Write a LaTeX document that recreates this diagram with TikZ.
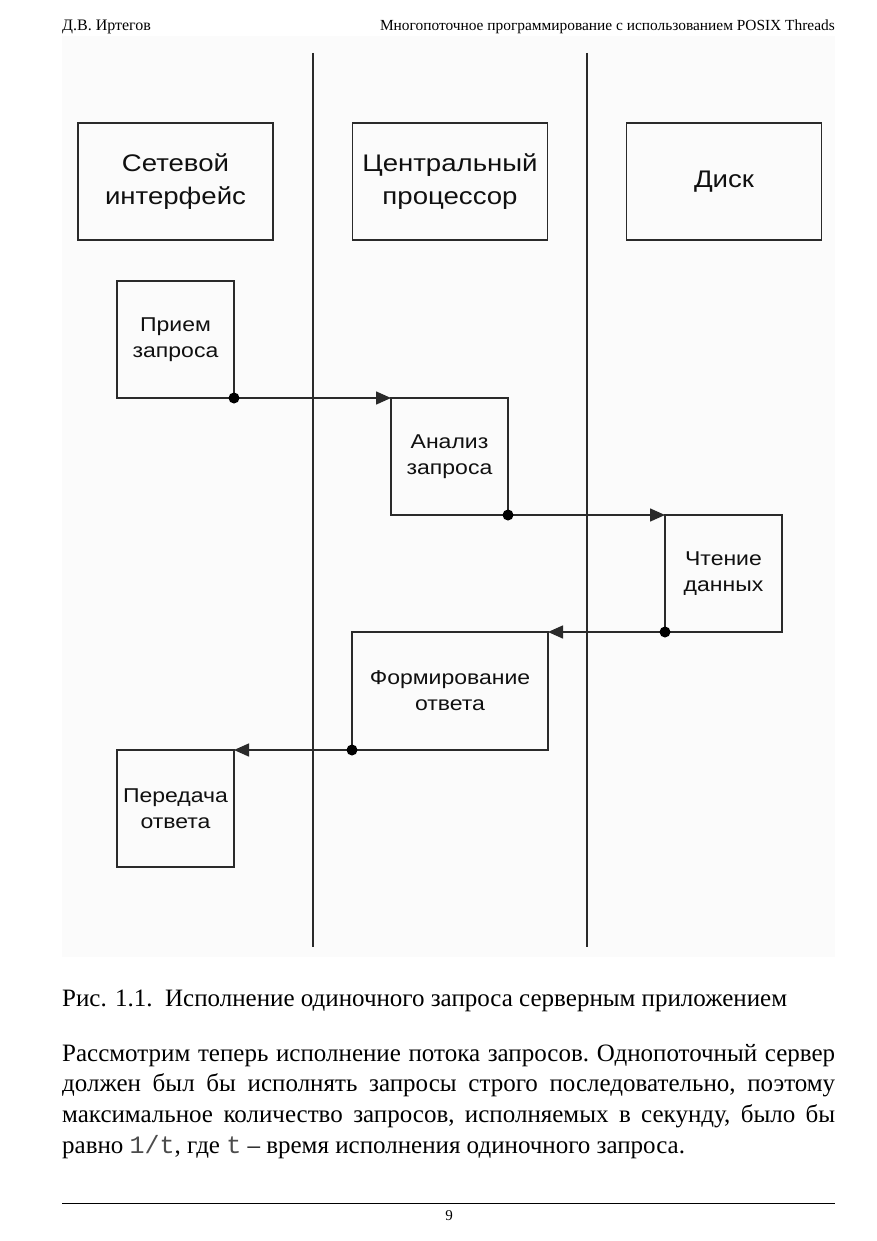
\documentclass[tikz,border=0pt]{standalone}
\usepackage{fontspec}
\setmainfont{Liberation Serif}
\setmonofont{Liberation Mono}
\newfontfamily\diagfont[FakeStretch=1.15]{Liberation Sans}
\usetikzlibrary{arrows.meta}
\definecolor{linec}{HTML}{2A2A2A}
\definecolor{diagtext}{HTML}{101010}
\definecolor{diagbg}{HTML}{FBFBFB}
\begin{document}
\begin{tikzpicture}[x=1pt,y=-1pt,
  boxbase/.style={draw=linec, line width=1.5pt, inner sep=0pt, outer sep=0pt, align=center, text=diagtext},
  bigbox/.style={boxbase, minimum width=195pt, minimum height=117pt, font=\diagfont\fontsize{24}{33}\selectfont},
  smallbox/.style={boxbase, minimum width=117pt, minimum height=117pt, font=\diagfont\fontsize{20}{26}\selectfont},
  widebox/.style={boxbase, minimum width=196pt, minimum height=118pt, font=\diagfont\fontsize{20}{26}\selectfont},
  lane/.style={draw=linec, line width=1.5pt},
  flow/.style={draw=linec, line width=1.5pt, -{Triangle[length=15pt,width=13pt]}},
  dotc/.style={fill=black},
  pagetext/.style={inner sep=0pt, text=black}
]
\useasboundingbox (0,0) rectangle (877,1241);
% diagram background
\fill[diagbg] (62,36) rectangle (835,957);
% lanes
\coordinate (l1t) at (313,53); \coordinate (l1b) at (313,947);
\coordinate (l2t) at (587,53); \coordinate (l2b) at (587,947);
\draw[lane] (l1t) -- (l1b);
\draw[lane] (l2t) -- (l2b);
% resource boxes
\node[bigbox] (net) at (175.5,181.5) {Сетевой\\интерфейс};
\node[bigbox] (cpu) at (450,181.5) {Центральный\\процессор};
\node[bigbox] (disk) at (724,181.5) {Диск};
% steps
\node[smallbox] (recv) at (175.5,339.5) {Прием\\запроса};
\node[smallbox] (anl) at (449.5,456.5) {Анализ\\запроса};
\node[smallbox] (read) at (723.5,573.5) {Чтение\\данных};
\node[widebox] (form) at (450,691) {Формирование\\ответа};
\node[smallbox] (send) at (175.5,808.5) {Передача\\ответа};
% flows
\draw[flow] (recv.south east) -- (anl.north west);
\draw[flow] (anl.south east) -- (read.north west);
\draw[flow] (read.south west) -- (form.north east);
\draw[flow] (form.south west) -- (send.north east);
\fill[dotc] (recv.south east) circle[radius=5.5pt];
\fill[dotc] (anl.south east) circle[radius=5.5pt];
\fill[dotc] (read.south west) circle[radius=5.5pt];
\fill[dotc] (form.south west) circle[radius=5.5pt];
% header
\node[pagetext, anchor=base west, font=\fontsize{16}{18}\selectfont] (hl) at (62,31) {Д.В. Иртегов};
\node[pagetext, anchor=base east, font=\fontsize{15.4}{18}\selectfont] (hr) at (835,31) {Многопоточное программирование с использованием POSIX Threads};
% caption
\node[pagetext, anchor=base west, font=\fontsize{25}{30}\selectfont] (cap) at (62,1006) {Рис. 1.1.\ \ Исполнение одиночного запроса серверным приложением};
% paragraph
\node[pagetext, anchor=base west, font=\fontsize{25}{30.8}\selectfont] (par) at (62,1061) {\parbox[t]{773pt}{\parindent=0pt\frenchspacing
Рассмотрим теперь исполнение потока запросов. Однопоточный сервер\linebreak
должен был бы исполнять запросы строго последовательно, поэтому\linebreak
максимальное количество запросов, исполняемых в секунду, было бы\linebreak
равно {\ttfamily\color{black!70}1/t}, где {\ttfamily\color{black!70}t} – время исполнения одиночного запроса.}};
% footer
\coordinate (fl) at (62,1203); \coordinate (fr) at (835,1203);
\draw[line width=1pt, black] (fl) -- (fr);
\node[pagetext, anchor=base, font=\fontsize{15}{16}\selectfont] (pg) at (449,1220) {9};
\end{tikzpicture}
\end{document}
